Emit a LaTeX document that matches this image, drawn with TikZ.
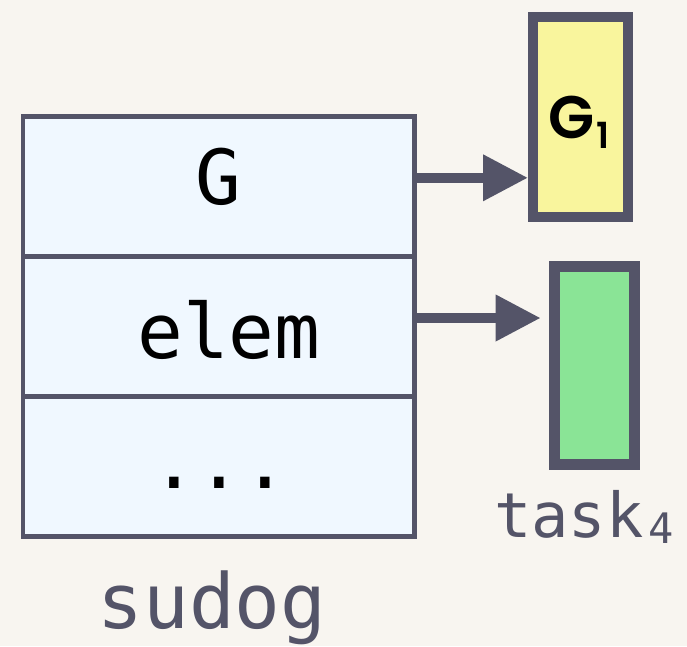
\documentclass[tikz,border=0pt]{standalone}
\usepackage{fontspec}
\setmonofont{DejaVu Sans Mono}
\newfontfamily\gfont{Poppins}[UprightFont={* SemiBold}, BoldFont={* SemiBold}]
\usetikzlibrary{arrows.meta}
\definecolor{bg}{RGB}{248,245,240}
\definecolor{edge}{RGB}{84,84,104}
\definecolor{rowfill}{RGB}{240,248,255}
\definecolor{gyellow}{RGB}{249,245,157}
\definecolor{tgreen}{RGB}{138,228,150}
\begin{document}
\begin{tikzpicture}[x=1pt,y=-1pt,
  rowbox/.style={draw=edge, fill=rowfill, line width=4.5pt, minimum width=391.5pt, minimum height=140pt, inner sep=0pt},
  monolabel/.style={font=\ttfamily\fontsize{76}{76}\selectfont, anchor=base, inner sep=0pt},
  arr/.style={draw=edge, line width=10pt, -{Triangle[length=45pt,width=44pt]}},
]
\useasboundingbox[fill=bg] (0,0) rectangle (687,646);
% struct rows
\node[rowbox] (r1) at (218.75,186.5) {};
\node[rowbox] (r2) at (218.75,326.5) {};
\node[rowbox] (r3) at (218.75,466.5) {};
\node[monolabel] (tG) at (218,204) {G};
\node[monolabel] (telem) at (229,358) {elem};
\node[monolabel] (tdots) at (219.7,488) {...};
\node[monolabel, text=edge] (tsudog) at (212,628) {sudog};
% G box
\node[draw=edge, fill=gyellow, line width=10pt, minimum width=95pt, minimum height=200pt, inner sep=0pt] (gbox) at (580.5,117) {};
\node[anchor=base, inner sep=0pt, font=\gfont\fontsize{60}{60}\selectfont] (tg1) at (579,138.5) {G\kern2pt\raisebox{-10pt}{\fontsize{36}{36}\selectfont 1}};
% task box
\node[draw=edge, fill=tgreen, line width=11pt, minimum width=80pt, minimum height=198pt, inner sep=0pt] (tbox) at (594.5,365) {};
\node[anchor=base west, inner sep=0pt, text=edge, font=\ttfamily\fontsize{62}{62}\selectfont] (ttask) at (494,537.3) {task\kern5pt\raisebox{-6pt}{\fontsize{42}{42}\selectfont 4}};
% arrows
\coordinate (a1) at ([yshift=8.7pt]r1.east);
\coordinate (a2) at ([yshift=8.5pt]r2.east);
\draw[arr] (a1) -- (a1 -| gbox.west);
\draw[arr, shorten >=8.3pt] (a2) -- (a2 -| tbox.west);
\end{tikzpicture}
\end{document}
